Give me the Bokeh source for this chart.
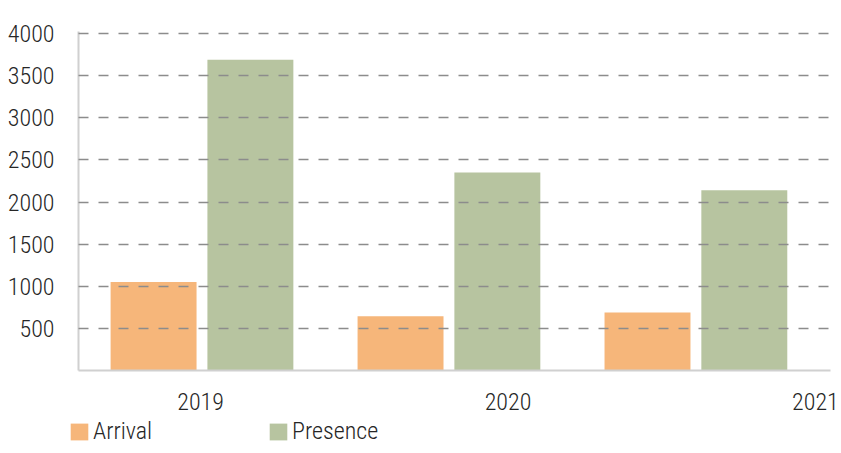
from bokeh.plotting import figure
from bokeh.layouts import column, row
from bokeh.models import (ColumnDataSource, Range1d, FixedTicker, LinearAxis,
                          Legend, LegendItem)
from bokeh.transform import dodge
from bokeh.embed import file_html
from bokeh.resources import INLINE

years = [2019, 2020, 2021]
arrival = [1050, 645, 690]
presence = [3690, 2350, 2140]
y_ticks = [500, 1000, 1500, 2000, 2500, 3000, 3500, 4000]
series_names = ["Arrival", "Presence"]

FONT = "Roboto Condensed Light, Roboto Light, Roboto"
FS = "24px"
TXT = "#262626"
ORANGE = "#F6B67A"
GREEN = "#B7C4A0"

src = ColumnDataSource(dict(idx=list(range(len(years))), year=years,
                            arrival=arrival, presence=presence))

p = figure(width=841, height=416, output_backend="svg", toolbar_location=None,
           x_range=Range1d(-0.5, 2.545), y_range=Range1d(0, 4025),
           min_border_left=78, min_border_right=11, min_border_top=31,
           min_border_bottom=46)
p.outline_line_color = None
p.background_fill_color = "white"
p.border_fill_color = "white"

p.vbar(x=dodge("idx", -0.196, range=p.x_range), top="arrival", width=0.348,
       source=src, fill_color=ORANGE, line_color=None)
p.vbar(x=dodge("idx", 0.196, range=p.x_range), top="presence", width=0.348,
       source=src, fill_color=GREEN, line_color=None)

p.xaxis.visible = False
p.xgrid.visible = False

yax = p.yaxis[0]
yax.ticker = FixedTicker(ticks=y_ticks)
yax.axis_line_color = "#d0d0d0"
yax.axis_line_width = 2
yax.major_tick_line_color = None
yax.minor_tick_line_color = None
yax.major_label_standoff = 18
yax.major_label_text_font = FONT
yax.major_label_text_font_size = FS
yax.major_label_text_color = TXT

p.ygrid.ticker = FixedTicker(ticks=y_ticks)
p.ygrid.grid_line_color = "#8c8c8c"
p.ygrid.grid_line_dash = "10 10"
p.ygrid.grid_line_width = 1.5
p.ygrid.level = "annotation"

p.extra_x_ranges = {"lab": Range1d(2018.603, 2021.049)}
lab = LinearAxis(x_range_name="lab", ticker=FixedTicker(ticks=years))
lab.axis_line_color = "#d0d0d0"
lab.axis_line_width = 2
lab.major_tick_line_color = None
lab.minor_tick_line_color = None
lab.major_label_standoff = 16
lab.major_label_text_font = FONT
lab.major_label_text_font_size = FS
lab.major_label_text_color = TXT
p.add_layout(lab, "below")

# legend strip: hidden copies of the series, only their legend swatches show
lf = figure(width=841, height=37, output_backend="svg", toolbar_location=None,
            x_range=Range1d(-0.5, 2.545), y_range=Range1d(0, 4025),
            x_axis_location=None, y_axis_location=None,
            min_border_left=68, min_border_right=0, min_border_top=0,
            min_border_bottom=0)
lf.outline_line_color = None
lf.xgrid.visible = False
lf.ygrid.visible = False
la = lf.vbar(x="idx", top="arrival", width=0.3, source=src,
             fill_color=ORANGE, line_color=None, visible=False)
lp = lf.vbar(x="idx", top="presence", width=0.3, source=src,
             fill_color=GREEN, line_color=None, visible=False)

legend = Legend(items=[LegendItem(label=series_names[0], renderers=[la], index=0),
                       LegendItem(label=series_names[1], renderers=[lp], index=0)],
                orientation="horizontal", location=(0, 8))
legend.padding = 0
legend.margin = 0
legend.spacing = 0
legend.border_line_color = None
legend.background_fill_alpha = 0
legend.inactive_fill_alpha = 0
legend.glyph_width = 22
legend.glyph_height = 21
legend.label_height = 21
legend.label_width = 174
legend.label_standoff = 3
legend.label_text_font = FONT
legend.label_text_font_size = FS
legend.label_text_color = TXT
lf.add_layout(legend, "center")

layout = column(row(p), row(lf), spacing=0)
open("out.html", "w").write(file_html(layout, INLINE))
